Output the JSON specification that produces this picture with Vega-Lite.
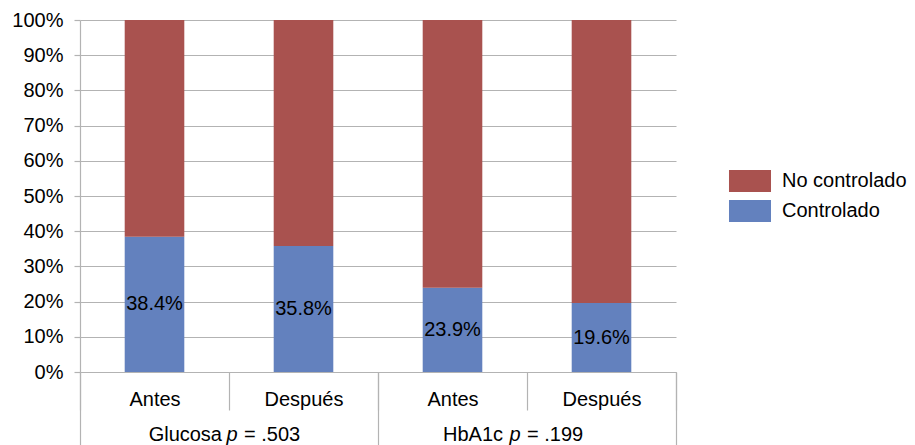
{
  "$schema": "https://vega.github.io/schema/vega-lite/v6.json",
  "width": 596,
  "height": 352,
  "autosize": {"type": "none"},
  "padding": {"left": 80, "top": 20, "right": 239, "bottom": 73},
  "background": "white",
  "config": {
    "font": "Liberation Sans",
    "view": {"stroke": null},
    "axis": {
      "labelFont": "Liberation Sans",
      "labelFontSize": 20,
      "labelColor": "#000000",
      "domainColor": "#B3B3B3",
      "tickColor": "#B3B3B3",
      "gridColor": "#B3B3B3",
      "domainWidth": 1.2,
      "tickWidth": 1.2,
      "gridWidth": 1.2
    },
    "text": {"font": "Liberation Sans", "fontSize": 20, "color": "#000000"}
  },
  "datasets": {
    "bars": [
      {"key": "Glucosa|Antes", "status": "Controlado", "pct": 0.384},
      {"key": "Glucosa|Antes", "status": "No controlado", "pct": 0.616},
      {"key": "Glucosa|Después", "status": "Controlado", "pct": 0.358},
      {"key": "Glucosa|Después", "status": "No controlado", "pct": 0.642},
      {"key": "HbA1c|Antes", "status": "Controlado", "pct": 0.239},
      {"key": "HbA1c|Antes", "status": "No controlado", "pct": 0.761},
      {"key": "HbA1c|Después", "status": "Controlado", "pct": 0.196},
      {"key": "HbA1c|Después", "status": "No controlado", "pct": 0.804}
    ],
    "groups": [
      {"group": "Glucosa", "prefix": "Glucosa", "p": "p", "suffix": "= .503"},
      {"group": "HbA1c", "prefix": "HbA1c", "p": "p", "suffix": "= .199"}
    ]
  },
  "layer": [
    {
      "layer": [
        {
          "data": {"name": "bars"},
          "mark": {"type": "bar", "width": {"band": 0.4}},
          "encoding": {
            "x": {
              "field": "key",
              "type": "nominal",
              "sort": null,
              "scale": {"type": "band", "paddingInner": 0, "paddingOuter": 0},
              "axis": {
                "orient": "bottom",
                "title": null,
                "labelExpr": "split(datum.label, '|')[1]",
                "labelAngle": 0,
                "tickBand": "extent",
                "tickSize": 38,
                "labelPadding": -11,
                "labelBaseline": "middle",
                "grid": false
              }
            },
            "y": {
              "field": "pct",
              "type": "quantitative",
              "stack": "zero",
              "scale": {"domain": [0, 1]},
              "axis": {
                "title": null,
                "format": ".0%",
                "values": [0, 0.1, 0.2, 0.3, 0.4, 0.5, 0.6, 0.7, 0.8, 0.9, 1],
                "grid": true,
                "tickSize": 6,
                "labelPadding": 11
              }
            },
            "color": {
              "field": "status",
              "type": "nominal",
              "scale": {"domain": ["No controlado", "Controlado"], "range": ["#A9524F", "#6381BE"]},
              "legend": {
                "orient": "none",
                "legendX": 656.5,
                "legendY": 147.5,
                "title": null,
                "symbolType": "M-1.556,-0.815H1.556V0.815H-1.556Z",
                "symbolSize": 729,
                "symbolStrokeWidth": 0,
                "symbolOpacity": 1,
                "labelOffset": 18.5,
                "rowPadding": 5,
                "labelFontSize": 20,
                "labelFont": "Liberation Sans",
                "labelColor": "#000000",
                "padding": 0
              }
            },
            "order": {"field": "status", "sort": "ascending"}
          }
        },
        {
          "data": {"name": "bars"},
          "transform": [
            {"filter": "datum.status === 'Controlado'"},
            {"calculate": "datum.pct / 2", "as": "mid"}
          ],
          "mark": {"type": "text", "fontSize": 20, "color": "#000000"},
          "encoding": {
            "x": {"field": "key", "type": "nominal", "sort": null},
            "y": {
              "field": "mid",
              "type": "quantitative",
              "scale": {"domain": [0, 1]},
              "axis": {
                "title": null,
                "format": ".0%",
                "values": [0, 0.1, 0.2, 0.3, 0.4, 0.5, 0.6, 0.7, 0.8, 0.9, 1],
                "grid": true,
                "tickSize": 6,
                "labelPadding": 11
              }
            },
            "text": {"field": "pct", "type": "quantitative", "format": ".1%"}
          }
        }
      ]
    },
    {
      "data": {"name": "groups"},
      "encoding": {
        "x": {
          "field": "group",
          "type": "nominal",
          "sort": null,
          "scale": {"type": "band", "paddingInner": 0, "paddingOuter": 0},
          "axis": {
            "orient": "bottom",
            "title": null,
            "labels": false,
            "domain": false,
            "grid": false,
            "tickBand": "extent",
            "tickSize": 73
          }
        },
        "y": {
          "datum": -0.179,
          "type": "quantitative",
          "scale": {"domain": [0, 1]},
          "axis": {
            "title": null,
            "format": ".0%",
            "values": [0, 0.1, 0.2, 0.3, 0.4, 0.5, 0.6, 0.7, 0.8, 0.9, 1],
            "grid": true,
            "tickSize": 6,
            "labelPadding": 11
          }
        }
      },
      "layer": [
        {
          "transform": [{"filter": "datum.group === 'Glucosa'"}],
          "mark": {"type": "text", "align": "right", "dx": -7},
          "encoding": {"text": {"field": "prefix"}}
        },
        {
          "transform": [{"filter": "datum.group === 'Glucosa'"}],
          "mark": {"type": "text", "align": "center", "dx": 3, "fontStyle": "italic"},
          "encoding": {"text": {"field": "p"}}
        },
        {
          "transform": [{"filter": "datum.group === 'Glucosa'"}],
          "mark": {"type": "text", "align": "left", "dx": 15},
          "encoding": {"text": {"field": "suffix"}}
        },
        {
          "transform": [{"filter": "datum.group === 'HbA1c'"}],
          "mark": {"type": "text", "align": "right", "dx": -24},
          "encoding": {"text": {"field": "prefix"}}
        },
        {
          "transform": [{"filter": "datum.group === 'HbA1c'"}],
          "mark": {"type": "text", "align": "center", "dx": -12, "fontStyle": "italic"},
          "encoding": {"text": {"field": "p"}}
        },
        {
          "transform": [{"filter": "datum.group === 'HbA1c'"}],
          "mark": {"type": "text", "align": "left", "dx": 0},
          "encoding": {"text": {"field": "suffix"}}
        }
      ]
    }
  ],
  "resolve": {"scale": {"x": "independent"}}
}
